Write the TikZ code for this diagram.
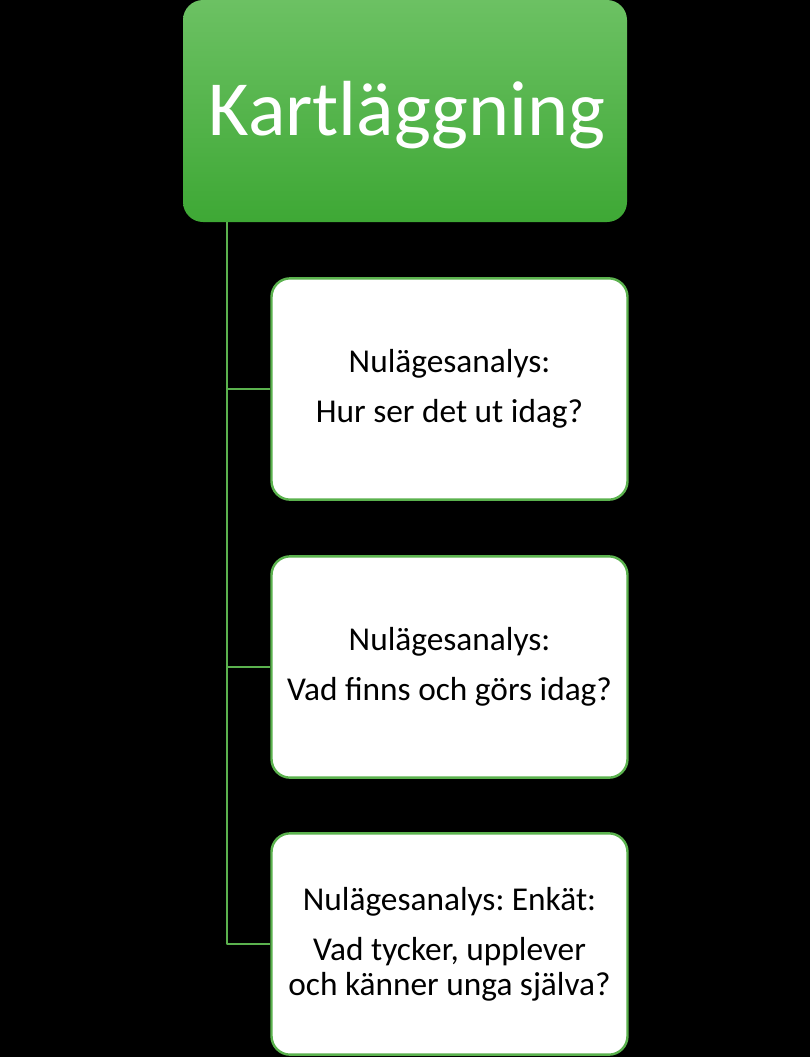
\documentclass[tikz,border=0pt]{standalone}
\usepackage{fontspec}
\setmainfont{Carlito}
\frenchspacing
\definecolor{grtop}{HTML}{6CC163}
\definecolor{grbot}{HTML}{3EA835}
\definecolor{grline}{HTML}{5BB24E}
\begin{document}
\begin{tikzpicture}[x=0.75pt,y=-0.75pt, line join=round, line cap=round,
    head/.style={rounded corners=15pt, minimum width=333pt, minimum height=166.5pt,
        top color=grtop, bottom color=grbot, draw=none, inner sep=0pt},
    card/.style={rounded corners=14pt, minimum width=267pt, minimum height=166pt,
        fill=white, draw=grline, line width=1.8pt, align=center, inner sep=0pt,
        font=\fontsize{25}{26.25}\selectfont},
    branch/.style={draw=grline, line width=1.8pt, line cap=butt}]
  \def\xs{227} \def\xc{449.5}
  \fill[black] (0,0) rectangle (810,1057);
  \useasboundingbox (0,0) rectangle (810,1057);
  \node[head] (kart) at (405,111) {};
  \node[anchor=base, text=white, font=\fontsize{58.6}{66}\selectfont] (titel) at (407,135) {Kartläggning};
  \node[card] (nu1) at (\xc,389) {Nulägesanalys:\\[11.25pt]Hur ser det ut idag?};
  \node[card] (nu2) at (\xc,667) {Nulägesanalys:\\[11.25pt]Vad finns och görs idag?};
  \node[card] (nu3) at (\xc,944) {Nulägesanalys: Enkät:\\[11.25pt]Vad tycker, upplever\\och känner unga själva?};
  \coordinate (stam) at (\xs,222);
  \draw[branch] (stam) |- (nu1.west);
  \draw[branch] (stam) |- (nu2.west);
  \draw[branch] (stam) |- (nu3.west);
\end{tikzpicture}
\end{document}
